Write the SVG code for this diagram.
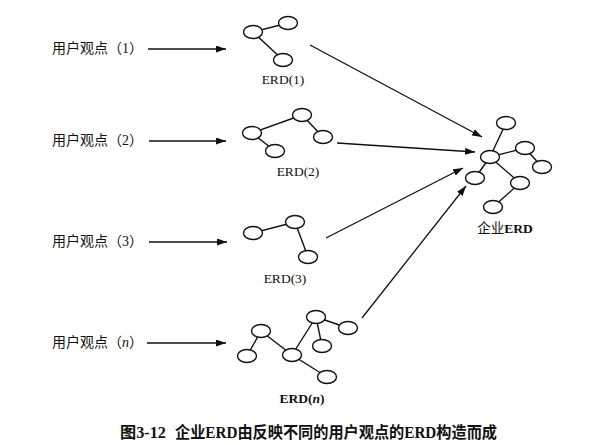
<svg xmlns="http://www.w3.org/2000/svg" width="610" height="445" viewBox="0 0 610 445">
<style>
.n{fill:#fff;stroke:#111;stroke-width:1.4}
.e{stroke:#111;stroke-width:1.4;fill:none}
.a{stroke:#111;stroke-width:1.3;fill:none;marker-end:url(#ah)}
.lbl{font-family:"Liberation Serif","Noto Sans CJK SC",serif;font-size:14px;fill:#111}
.erd{font-family:"Liberation Serif","Noto Sans CJK SC",serif;font-size:13.5px;fill:#111;text-anchor:middle}
.cap{font-family:"Liberation Serif","Noto Sans CJK SC",serif;font-size:16px;font-weight:bold;fill:#111}
</style>
<defs>
<marker id="ah" markerUnits="userSpaceOnUse" markerWidth="10" markerHeight="7" refX="10" refY="3.5" orient="auto">
<path d="M0,0 L10,3.5 L0,7 z" fill="#111"/>
</marker>
</defs>
<rect width="610" height="445" fill="#fff"/>
<g id="connectors">
<line class="a" x1="148" y1="49" x2="226" y2="49"/>
<line class="a" x1="149" y1="141" x2="226" y2="141"/>
<line class="a" x1="149" y1="242" x2="227" y2="242"/>
<line class="a" x1="147" y1="343" x2="226" y2="343"/>
<line class="a" x1="310" y1="45" x2="482" y2="137"/>
<line class="a" x1="337" y1="143" x2="475" y2="152"/>
<line class="a" x1="326" y1="238" x2="463" y2="168"/>
<line class="a" x1="362" y1="318" x2="466" y2="186"/>
</g>
<g id="view1"><text class="lbl" x="52" y="53">用户观点（1）</text></g>
<g id="view2"><text class="lbl" x="52" y="145">用户观点（2）</text></g>
<g id="view3"><text class="lbl" x="52" y="246">用户观点（3）</text></g>
<g id="viewn"><text class="lbl" x="52" y="347">用户观点（<tspan font-style="italic">n</tspan>）</text></g>
<g id="erd1">
<line class="e" x1="253" y1="32" x2="288" y2="23"/>
<line class="e" x1="253" y1="32" x2="283" y2="60"/>
<ellipse class="n" cx="253" cy="32" rx="9.5" ry="6.5"/>
<ellipse class="n" cx="288" cy="23" rx="9.5" ry="6.5"/>
<ellipse class="n" cx="283" cy="60" rx="9.5" ry="6.5"/>
<text class="erd" x="283" y="84">ERD(1)</text>
</g>
<g id="erd2">
<line class="e" x1="252" y1="133" x2="302" y2="115"/>
<line class="e" x1="302" y1="115" x2="323" y2="137"/>
<line class="e" x1="252" y1="133" x2="275" y2="151"/>
<ellipse class="n" cx="252" cy="133" rx="9.5" ry="6.5"/>
<ellipse class="n" cx="302" cy="115" rx="9.5" ry="6.5"/>
<ellipse class="n" cx="323" cy="137" rx="9.5" ry="6.5"/>
<ellipse class="n" cx="275" cy="151" rx="9.5" ry="6.5"/>
<text class="erd" x="298" y="176">ERD(2)</text>
</g>
<g id="erd3">
<line class="e" x1="253" y1="233" x2="295" y2="222"/>
<line class="e" x1="295" y1="222" x2="308" y2="257"/>
<ellipse class="n" cx="253" cy="233" rx="9.5" ry="6.5"/>
<ellipse class="n" cx="295" cy="222" rx="9.5" ry="6.5"/>
<ellipse class="n" cx="308" cy="257" rx="9.5" ry="6.5"/>
<text class="erd" x="285" y="283">ERD(3)</text>
</g>
<g id="erdn">
<line class="e" x1="261" y1="331" x2="247" y2="356"/>
<line class="e" x1="261" y1="331" x2="292" y2="355"/>
<line class="e" x1="292" y1="355" x2="316" y2="317"/>
<line class="e" x1="316" y1="317" x2="348" y2="328"/>
<line class="e" x1="316" y1="317" x2="322" y2="346"/>
<line class="e" x1="292" y1="355" x2="327" y2="377"/>
<ellipse class="n" cx="261" cy="331" rx="9.5" ry="6.5"/>
<ellipse class="n" cx="316" cy="317" rx="9.5" ry="6.5"/>
<ellipse class="n" cx="348" cy="328" rx="9.5" ry="6.5"/>
<ellipse class="n" cx="322" cy="346" rx="9.5" ry="6.5"/>
<ellipse class="n" cx="292" cy="355" rx="9.5" ry="6.5"/>
<ellipse class="n" cx="247" cy="356" rx="9.5" ry="6.5"/>
<ellipse class="n" cx="327" cy="377" rx="9.5" ry="6.5"/>
<text class="erd" x="302" y="403" font-weight="bold">ERD(<tspan font-style="italic">n</tspan>)</text>
</g>
<g id="erd-enterprise">
<line class="e" x1="490" y1="157" x2="506" y2="123"/>
<line class="e" x1="490" y1="157" x2="525" y2="148"/>
<line class="e" x1="525" y1="148" x2="542" y2="167"/>
<line class="e" x1="490" y1="157" x2="475" y2="178"/>
<line class="e" x1="490" y1="157" x2="520" y2="183"/>
<line class="e" x1="520" y1="183" x2="493" y2="207"/>
<ellipse class="n" cx="506" cy="123" rx="9.5" ry="6.5"/>
<ellipse class="n" cx="490" cy="157" rx="9.5" ry="6.5"/>
<ellipse class="n" cx="525" cy="148" rx="9.5" ry="6.5"/>
<ellipse class="n" cx="542" cy="167" rx="9.5" ry="6.5"/>
<ellipse class="n" cx="475" cy="178" rx="9.5" ry="6.5"/>
<ellipse class="n" cx="520" cy="183" rx="9.5" ry="6.5"/>
<ellipse class="n" cx="493" cy="207" rx="9.5" ry="6.5"/>
<text class="erd" x="505" y="233" font-size="14">企业<tspan font-weight="bold">ERD</tspan></text>
</g>
<g id="caption">
<text class="cap" x="120" y="438" textLength="46" lengthAdjust="spacingAndGlyphs">图3-12</text>
<text class="cap" x="175" y="438" textLength="322" lengthAdjust="spacingAndGlyphs">企业ERD由反映不同的用户观点的ERD构造而成</text>
</g>
</svg>
